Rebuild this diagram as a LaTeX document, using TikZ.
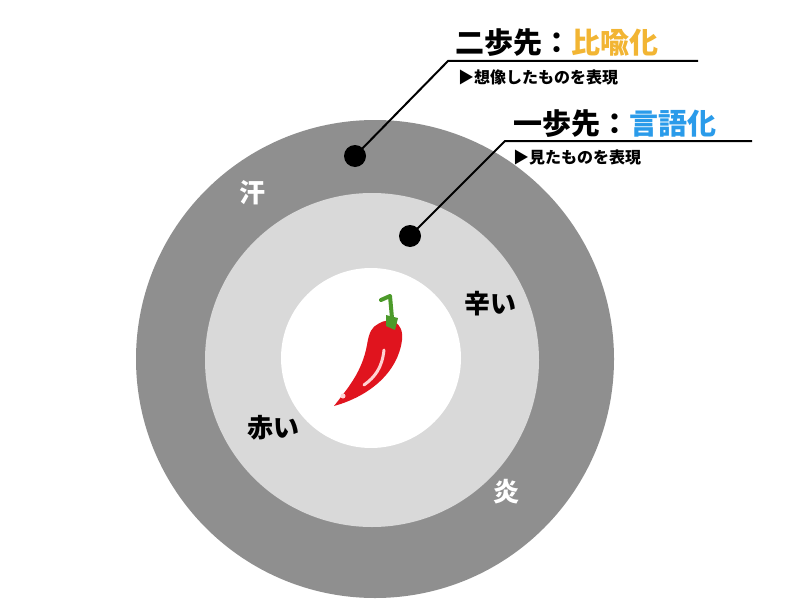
\documentclass[tikz,border=0pt]{standalone}
\usepackage{fontspec}
\setmainfont{Noto Sans CJK JP}
\definecolor{outerg}{HTML}{8F8F8F}
\definecolor{innerg}{HTML}{D9D9D9}
\definecolor{orng}{HTML}{F2B533}
\definecolor{blu}{HTML}{2A9BEA}
\definecolor{pep}{HTML}{E0141E}
\definecolor{stem}{HTML}{4C9A2A}
\begin{document}
\begin{tikzpicture}[x=1pt,y=-1pt,
  dot/.style={circle,fill=black,inner sep=0pt,minimum size=22pt},
  lead/.style={line width=2pt},
  title/.style={anchor=base west,inner sep=0pt,font=\bfseries\fontsize{29}{29}\selectfont},
  sub/.style={anchor=base west,inner sep=0pt,font=\bfseries\fontsize{16}{16}\selectfont},
  ring/.style={anchor=center,font=\bfseries\fontsize{26}{26}\selectfont}]
\useasboundingbox (0,0) rectangle (800,610);
\fill[white] (0,0) rectangle (800,610);
\fill[outerg] (375,359) circle (239);
\fill[innerg] (372,360) circle (167);
\fill[white] (371,358) circle (90);
% pepper
\fill[pep] (378,324) .. controls (390,316) and (404,322) .. (402,340)
  .. controls (398,372) and (370,396) .. (334,406)
  .. controls (348,388) and (362,372) .. (367,345)
  .. controls (369,332) and (372,327) .. cycle;
\draw[pink!70!white,line width=3pt,line cap=round] (384,350) .. controls (382,368) and (375,377) .. (364,385);
\fill[pink!70!white] (343,396) circle (2.5);
\draw[stem,line width=4pt,line cap=round,line join=round] (381,300) -- (390,296) -- (392,318);
\fill[stem] (386,315) -- (398,318) -- (395,330) -- (386,326) -- cycle;
% dots and leaders
\node[dot] (d1) at (355,156) {};
\node[dot] (d2) at (410,236) {};
\coordinate (k1) at (448,61);
\coordinate (e1) at (698,61);
\coordinate (k2) at (505,141);
\coordinate (e2) at (752,141);
\draw[lead] (d1.center) -- (k1) -- (e1);
\draw[lead] (d2.center) -- (k2) -- (e2);
\node[title] (t1) at (455,54) {二歩先：\textcolor{orng}{比喩化}};
\node[sub] (s1) at (458,83) {▶想像したものを表現};
\node[title] (t2) at (513,134) {一歩先：\textcolor{blu}{言語化}};
\node[sub] (s2) at (513,163) {▶見たものを表現};
\node[ring,white] (a) at (252,193) {汗};
\node[ring,white] (b) at (506,492) {炎};
\node[ring] (c) at (490,304) {辛い};
\node[ring] (d) at (273,428) {赤い};
\end{tikzpicture}
\end{document}
